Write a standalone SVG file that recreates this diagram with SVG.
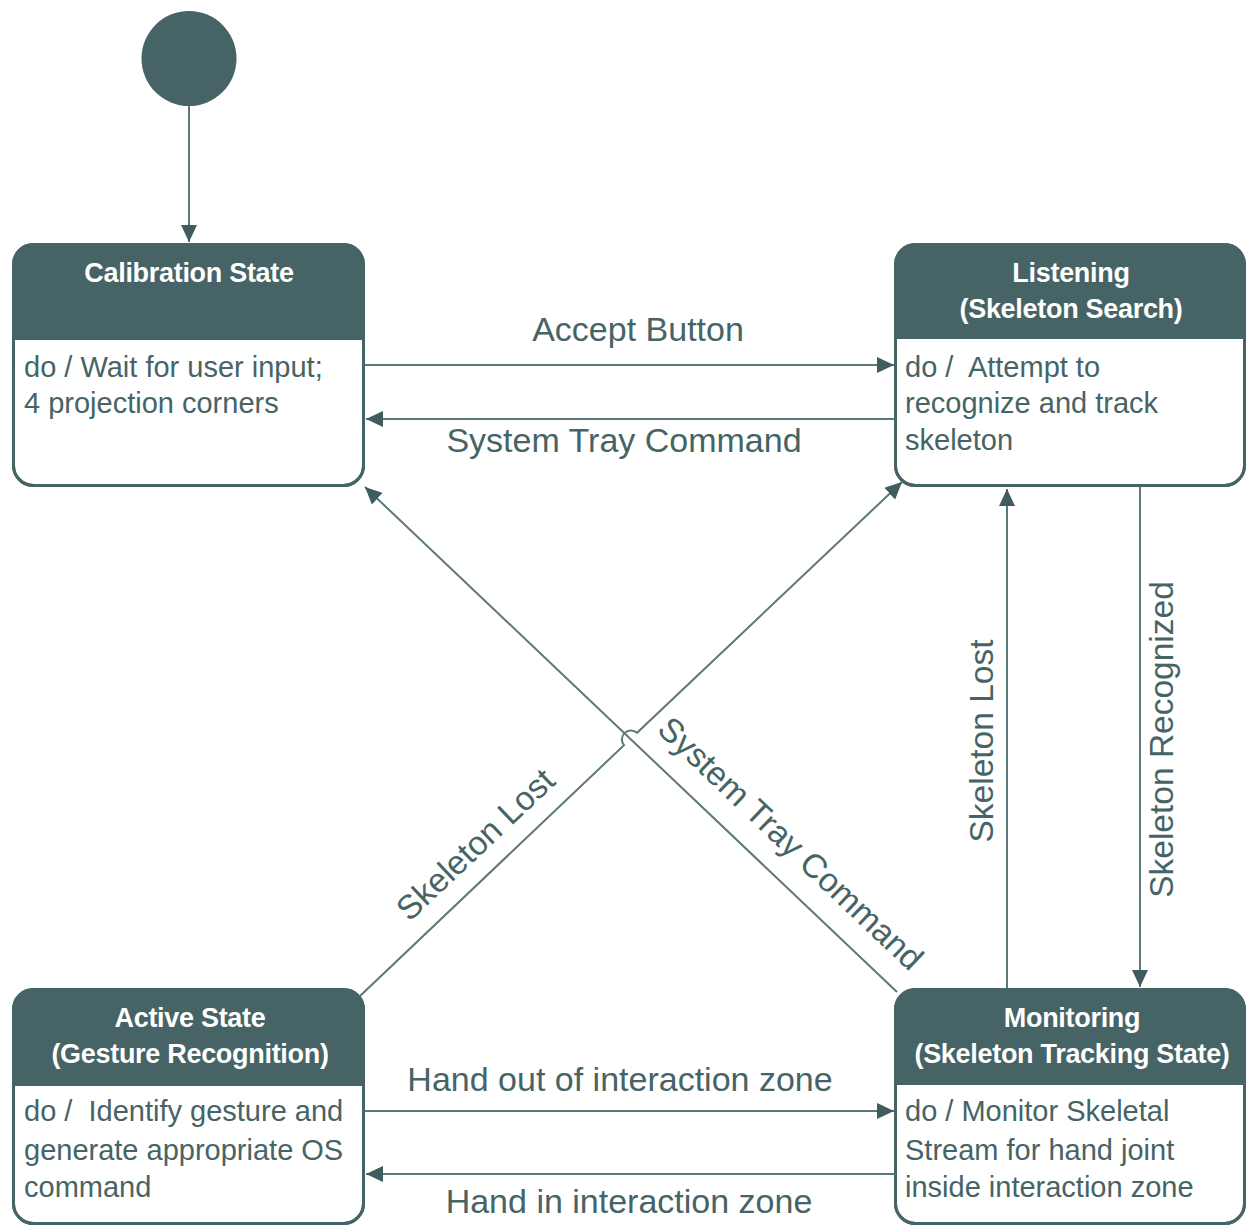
<svg xmlns="http://www.w3.org/2000/svg" width="1247" height="1226" viewBox="0 0 1247 1226">
<style>
.box{fill:#ffffff;stroke:#466465;stroke-width:3}
.hdr{fill:#466465}
.ttl{font-family:"Liberation Sans",Arial,sans-serif;font-weight:bold;font-size:27px;fill:#ffffff;text-anchor:middle;letter-spacing:-0.3px}
.body{font-family:"Liberation Sans",Arial,sans-serif;font-size:29px;fill:#466465;white-space:pre}
.lbl{font-family:"Liberation Sans",Arial,sans-serif;font-size:34px;fill:#466465;text-anchor:middle}
.rl{font-family:"Liberation Sans",Arial,sans-serif;font-size:33.5px;fill:#466465;text-anchor:middle}
.con{fill:none;stroke:#5d7879;stroke-width:2}
</style>
<defs>
<marker id="ah" markerUnits="userSpaceOnUse" markerWidth="19" markerHeight="17" refX="17" refY="8" orient="auto">
<path d="M0,0 L17,8 L0,16 Z" fill="#3f5d5e"/>
</marker>
</defs>
<rect width="1247" height="1226" fill="#ffffff"/>

<g id="start">
<circle cx="189" cy="58.5" r="47.5" fill="#466465"/>
</g>

<g id="calibration">
<rect class="box" x="13.5" y="244.5" width="350" height="241" rx="20"/>
<path class="hdr" d="M13.5,340 V264.5 A20,20 0 0 1 33.5,244.5 H343.5 A20,20 0 0 1 363.5,264.5 V340 Z"/>
<rect x="13.5" y="244.5" width="350" height="241" rx="20" fill="none" stroke="#466465" stroke-width="3"/>
<text class="ttl" x="189" y="282">Calibration State</text>
<text class="body" x="24" y="377">do / Wait for user input;</text>
<text class="body" x="24" y="413">4 projection corners</text>
</g>

<g id="listening">
<rect class="box" x="895.5" y="244.5" width="349" height="241" rx="20"/>
<path class="hdr" d="M895.5,339 V264.5 A20,20 0 0 1 915.5,244.5 H1224.5 A20,20 0 0 1 1244.5,264.5 V339 Z"/>
<rect x="895.5" y="244.5" width="349" height="241" rx="20" fill="none" stroke="#466465" stroke-width="3"/>
<text class="ttl" x="1071" y="282">Listening</text>
<text class="ttl" x="1071" y="318">(Skeleton Search)</text>
<text class="body" x="905" y="377" xml:space="preserve">do /  Attempt to</text>
<text class="body" x="905" y="413">recognize and track</text>
<text class="body" x="905" y="450">skeleton</text>
</g>

<g id="active">
<rect class="box" x="13.5" y="989.5" width="350" height="234" rx="20"/>
<path class="hdr" d="M13.5,1086 V1009.5 A20,20 0 0 1 33.5,989.5 H343.5 A20,20 0 0 1 363.5,1009.5 V1086 Z"/>
<rect x="13.5" y="989.5" width="350" height="234" rx="20" fill="none" stroke="#466465" stroke-width="3"/>
<text class="ttl" x="190" y="1027">Active State</text>
<text class="ttl" x="190" y="1063">(Gesture Recognition)</text>
<text class="body" x="24" y="1121" xml:space="preserve">do /  Identify gesture and</text>
<text class="body" x="24" y="1160">generate appropriate OS</text>
<text class="body" x="24" y="1197">command</text>
</g>

<g id="monitoring">
<rect class="box" x="895.5" y="989.5" width="349" height="234" rx="20"/>
<path class="hdr" d="M895.5,1085 V1009.5 A20,20 0 0 1 915.5,989.5 H1224.5 A20,20 0 0 1 1244.5,1009.5 V1085 Z"/>
<rect x="895.5" y="989.5" width="349" height="234" rx="20" fill="none" stroke="#466465" stroke-width="3"/>
<text class="ttl" x="1072" y="1027">Monitoring</text>
<text class="ttl" x="1072" y="1063">(Skeleton Tracking State)</text>
<text class="body" x="905" y="1121">do / Monitor Skeletal</text>
<text class="body" x="905" y="1160">Stream for hand joint</text>
<text class="body" x="905" y="1197">inside interaction zone</text>
</g>

<g id="connectors">
<path class="con" d="M189,106 V242" marker-end="url(#ah)"/>
<path class="con" d="M365,365 H894" marker-end="url(#ah)"/>
<path class="con" d="M895,419 H366" marker-end="url(#ah)"/>
<path class="con" d="M365,1111 H894" marker-end="url(#ah)"/>
<path class="con" d="M895,1174 H366" marker-end="url(#ah)"/>
<path class="con" d="M1007,988 V489" marker-end="url(#ah)"/>
<path class="con" d="M1140,487 V987" marker-end="url(#ah)"/>
<path class="con" d="M897,992 L365,487" marker-end="url(#ah)"/>
<path class="con" d="M360,996 L624,745.2 A9,9 0 0 1 637,732.8 L902,482" marker-end="url(#ah)"/>

<text class="lbl" x="638" y="341">Accept Button</text>
<text class="lbl" x="624" y="452">System Tray Command</text>
<text class="lbl" x="620" y="1091">Hand out of interaction zone</text>
<text class="lbl" x="629" y="1213">Hand in interaction zone</text>
<text class="rl" transform="translate(981,741) rotate(-90)" x="0" y="12">Skeleton Lost</text>
<text class="rl" transform="translate(1161,739.5) rotate(-90)" x="0" y="12">Skeleton Recognized</text>
<text class="rl" transform="translate(475,844) rotate(-43.4)" x="0" y="12">Skeleton Lost</text>
<text class="rl" transform="translate(791,843) rotate(43.5)" x="0" y="12">System Tray Command</text>
</g>
</svg>
